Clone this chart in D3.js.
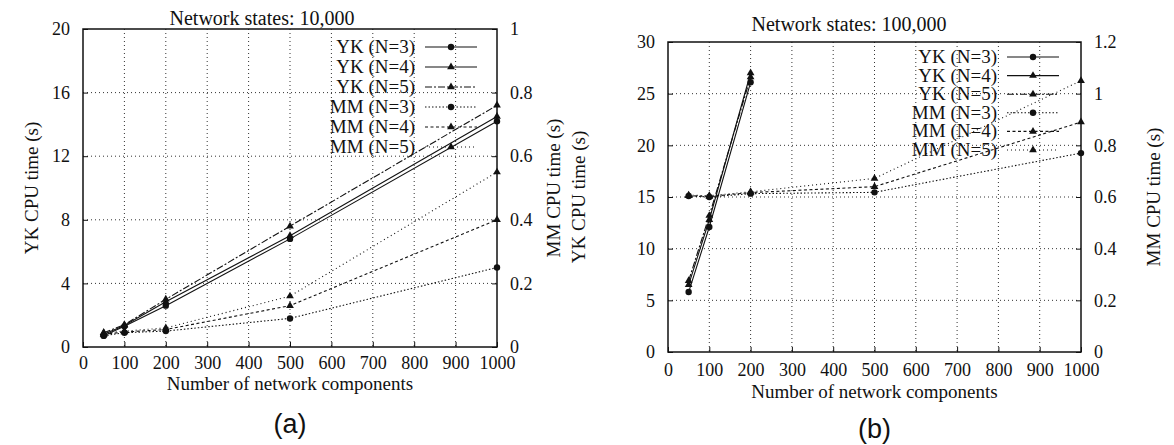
<!DOCTYPE html>
<html>
<head>
<meta charset="utf-8">
<script src="https://cdn.jsdelivr.net/npm/d3@7"></script>
<style>
  body { margin: 0; background: #fff; }
  svg { display: block; }
  svg text { font-family: "Liberation Serif", "DejaVu Serif", serif; fill: #111; }
</style>
</head>
<body>
<svg id="chart" width="1174" height="445"></svg>
<script>
// x values (number of network components)
var xA = [50, 100, 200, 500, 1000];
var xB = [50, 100, 200, 500, 1000];
var xBYk = [50, 100, 200];

// panel (a): 10,000 network states
var ykA3 = [0.7, 1.3, 2.6, 6.8, 14.2];
var ykA4 = [0.8, 1.35, 2.85, 7.0, 14.5];
var ykA5 = [0.9, 1.4, 3.0, 7.6, 15.2];
var mmA3 = [0.035, 0.045, 0.05, 0.09, 0.25];
var mmA4 = [0.04, 0.047, 0.055, 0.13, 0.4];
var mmA5 = [0.045, 0.05, 0.06, 0.16, 0.55];

// panel (b): 100,000 network states
var ykB3 = [5.8, 12.1, 26.1];
var ykB4 = [6.5, 12.8, 27.0];
var ykB5 = [6.9, 13.2, 26.6];
var mmB3 = [0.604, 0.600, 0.613, 0.618, 0.77];
var mmB4 = [0.605, 0.602, 0.617, 0.64, 0.89];
var mmB5 = [0.607, 0.605, 0.62, 0.672, 1.05];

var seriesNames = ['YK (N=3)', 'YK (N=4)', 'YK (N=5)', 'MM (N=3)', 'MM (N=4)', 'MM (N=5)'];
var xTicks = [0, 100, 200, 300, 400, 500, 600, 700, 800, 900, 1000];
var yTicksA = [0, 4, 8, 12, 16, 20];
var y2TicksA = [0, 0.2, 0.4, 0.6, 0.8, 1];
var yTicksB = [0, 5, 10, 15, 20, 25, 30];
var y2TicksB = [0, 0.2, 0.4, 0.6, 0.8, 1, 1.2];

var svg = d3.select('#chart');
svg.append('rect').attr('width', 1174).attr('height', 445).attr('fill', '#fff');

// line look per series: dash pattern, marker
var styles = [
  { dash: null, marker: 'circle' },
  { dash: null, marker: 'tri' },
  { dash: '7,2,2,2', marker: 'tri' },
  { dash: '1.5,2', marker: 'circle' },
  { dash: '3,2.5', marker: 'tri' },
  { dash: '1,3', marker: 'tri' }
];

function drawMarker(g, kind, x, y) {
  if (kind === 'circle') {
    g.append('circle').attr('cx', x).attr('cy', y).attr('r', 3.2).attr('fill', '#111');
  } else {
    g.append('path')
      .attr('d', d3.symbol().type(d3.symbolTriangle).size(26)())
      .attr('transform', 'translate(' + x + ',' + y + ')')
      .attr('fill', '#111');
  }
}

function drawPanel(p) {
  var g = svg.append('g');
  var x = d3.scaleLinear().domain([0, 1000]).range([p.left, p.right]);
  var y = d3.scaleLinear().domain([0, p.yMax]).range([p.bottom, p.top]);
  var y2 = d3.scaleLinear().domain([0, p.y2Max]).range([p.bottom, p.top]);

  // grid
  g.append('g').selectAll('line').data(xTicks.slice(1, -1)).enter().append('line')
    .attr('x1', function(d) { return x(d); }).attr('x2', function(d) { return x(d); })
    .attr('y1', p.top).attr('y2', p.bottom)
    .attr('stroke', '#333').attr('stroke-width', 1).attr('stroke-dasharray', '1,3');
  g.append('g').selectAll('line').data(p.yTicks.slice(1, -1)).enter().append('line')
    .attr('y1', function(d) { return y(d); }).attr('y2', function(d) { return y(d); })
    .attr('x1', p.left).attr('x2', p.right)
    .attr('stroke', '#333').attr('stroke-width', 1).attr('stroke-dasharray', '1,3');

  // axes
  var fmt = function(d) { return String(+d.toFixed(1)); };
  var xAxis = g.append('g').attr('transform', 'translate(0,' + p.bottom + ')')
    .call(d3.axisBottom(x).tickValues(xTicks).tickFormat(d3.format('d'))
      .tickSizeInner(-5).tickSizeOuter(0).tickPadding(p.xPad));
  var yAxis = g.append('g').attr('transform', 'translate(' + p.left + ',0)')
    .call(d3.axisLeft(y).tickValues(p.yTicks).tickFormat(d3.format('d'))
      .tickSizeInner(-5).tickSizeOuter(0).tickPadding(13));
  var y2Axis = g.append('g').attr('transform', 'translate(' + p.right + ',0)')
    .call(d3.axisRight(y2).tickValues(p.y2Ticks).tickFormat(fmt)
      .tickSizeInner(-5).tickSizeOuter(0).tickPadding(13));
  [xAxis, yAxis, y2Axis].forEach(function(a) {
    a.attr('font-family', null).attr('font-size', null);
    a.selectAll('text').style('font-size', '18px')
      .style('font-family', '"Liberation Serif", serif').attr('fill', '#111');
    a.selectAll('line').attr('stroke', '#111');
    a.select('.domain').remove();
  });

  // frame
  g.append('rect').attr('x', p.left).attr('y', p.top)
    .attr('width', p.right - p.left).attr('height', p.bottom - p.top)
    .attr('fill', 'none').attr('stroke', '#111').attr('stroke-width', 1.5);

  // series
  var series = [
    { xs: p.ykX, ys: p.yk[0], sc: y }, { xs: p.ykX, ys: p.yk[1], sc: y }, { xs: p.ykX, ys: p.yk[2], sc: y },
    { xs: p.mmX, ys: p.mm[0], sc: y2 }, { xs: p.mmX, ys: p.mm[1], sc: y2 }, { xs: p.mmX, ys: p.mm[2], sc: y2 }
  ];
  series.forEach(function(s, i) {
    var pts = s.xs.map(function(v, j) { return [x(v), s.sc(s.ys[j])]; });
    g.append('path').attr('d', d3.line()(pts))
      .attr('fill', 'none').attr('stroke', '#111').attr('stroke-width', 1.1)
      .attr('stroke-dasharray', styles[i].dash);
    pts.forEach(function(pt) { drawMarker(g, styles[i].marker, pt[0], pt[1]); });
  });

  // legend
  seriesNames.forEach(function(name, i) {
    var ly = p.legY + i * p.legStep;
    g.append('text').attr('x', p.legX).attr('y', ly + 6).attr('text-anchor', 'end')
      .style('font-size', '19px').text(name);
    g.append('line').attr('x1', p.legX + 10).attr('x2', p.legX + 62)
      .attr('y1', ly).attr('y2', ly)
      .attr('stroke', '#111').attr('stroke-width', 1.1).attr('stroke-dasharray', styles[i].dash);
    drawMarker(g, styles[i].marker, p.legX + 36, ly);
  });

  // titles
  g.append('text').attr('x', p.titleX).attr('y', p.titleY).attr('text-anchor', 'middle')
    .style('font-size', '20px').text(p.title);
  g.append('text').attr('x', (p.left + p.right) / 2).attr('y', p.bottom + p.xLabOff).attr('text-anchor', 'middle')
    .style('font-size', '19px').text('Number of network components');
  var mid = (p.top + p.bottom) / 2;
  g.append('text').attr('transform', 'translate(' + p.yLabX + ',' + mid + ') rotate(-90)')
    .attr('text-anchor', 'middle').style('font-size', '19px').text('YK CPU time (s)');
  g.append('text').attr('transform', 'translate(' + p.y2LabX + ',' + mid + ') rotate(-90)')
    .attr('text-anchor', 'middle').style('font-size', '19px').text('MM CPU time (s)');
  g.append('text').attr('x', (p.left + p.right) / 2).attr('y', p.bottom + 86).attr('text-anchor', 'middle')
    .style('font-size', '27px').style('font-family', '"Liberation Sans", sans-serif').style('font-weight', 300)
    .text(p.tag);
}

drawPanel({
  left: 83, right: 497, top: 29, bottom: 347,
  yMax: 20, y2Max: 1, yTicks: yTicksA, y2Ticks: y2TicksA,
  ykX: xA, mmX: xA, yk: [ykA3, ykA4, ykA5], mm: [mmA3, mmA4, mmA5],
  legX: 415, legY: 47, legStep: 20,
  title: 'Network states: 10,000', titleX: 262, titleY: 25,
  xPad: 9, xLabOff: 43,
  yLabX: 38, y2LabX: 560, tag: '(a)'
});

drawPanel({
  left: 668, right: 1081, top: 42, bottom: 352,
  yMax: 30, y2Max: 1.2, yTicks: yTicksB, y2Ticks: y2TicksB,
  ykX: xBYk, mmX: xB, yk: [ykB3, ykB4, ykB5], mm: [mmB3, mmB4, mmB5],
  legX: 997, legY: 57, legStep: 18.6,
  title: 'Network states: 100,000', titleX: 849, titleY: 31,
  xPad: 11, xLabOff: 46,
  yLabX: 585, y2LabX: 1160, tag: '(b)'
});
</script>
</body>
</html>
